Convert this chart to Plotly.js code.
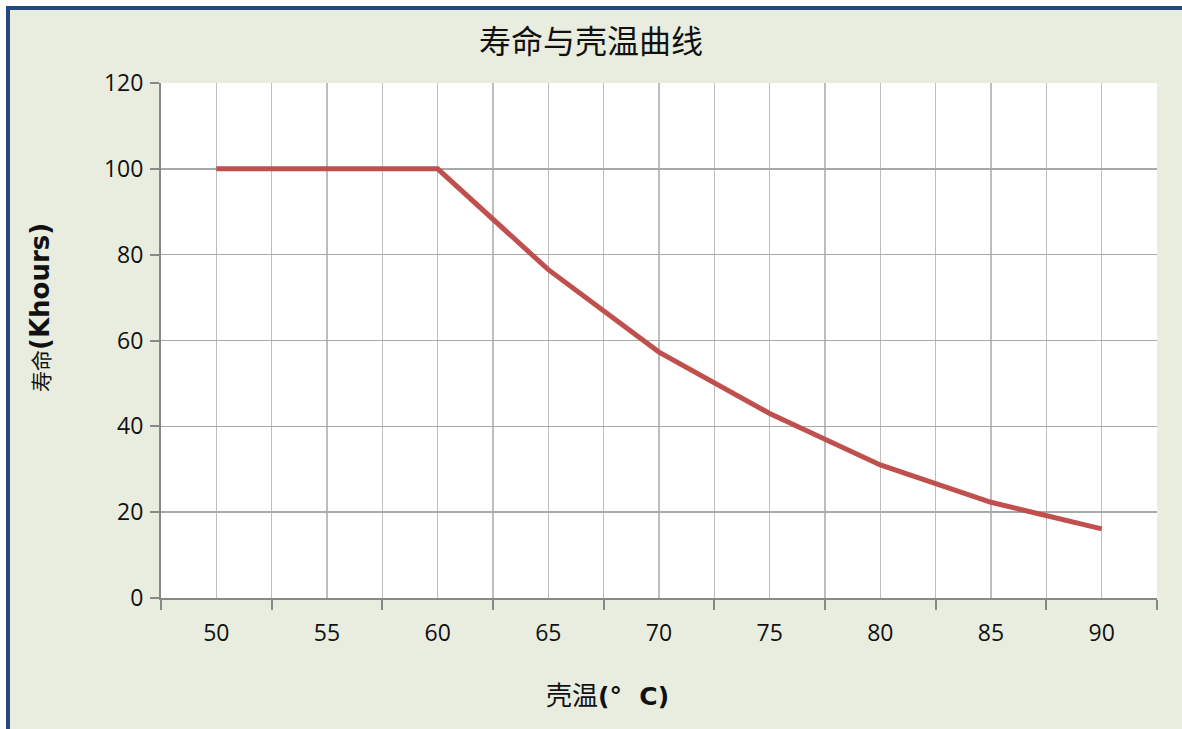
<!DOCTYPE html>
<html>
<head>
<meta charset="utf-8">
<script src="https://cdn.plot.ly/plotly-3.0.1.min.js"></script>
<style>
html,body{margin:0;padding:0;background:#ffffff;}
#chart{width:1182px;height:729px;}
</style>
</head>
<body>
<div id="chart"></div>
<script>
// Data
const temperatures = [50, 55, 60, 65, 70, 75, 80, 85, 90];
const lifeKhours = [100, 100, 100, 76.5, 57.3, 43, 31, 22.3, 16.1];
const xTickLabels = ['50', '55', '60', '65', '70', '75', '80', '85', '90'];
const chartTitle = '寿命与壳温曲线';
const yTitleCn = '寿命';
const yTitleEn = '(Khours)';
const xTitleCn = '壳温';
const xTitleEn = '(°\u00a0\u00a0C)';

const W = 1182, H = 729;
const L = 161, R = 25, T = 83, B = 131;
const pw = W - L - R, ph = H - T - B;
const px = v => (v - L) / pw;
const py = v => (H - B - v) / ph;

const latin = "'DejaVu Sans', 'Liberation Sans', sans-serif";
const cjk = "'Noto Sans CJK SC', sans-serif";

const trace = {
  x: temperatures,
  y: lifeKhours,
  type: 'scatter',
  mode: 'lines',
  line: {color: '#C0504D', width: 5},
  hoverinfo: 'x+y',
  showlegend: false
};

const layout = {
  width: W,
  height: H,
  margin: {l: L, r: R, t: T, b: B, pad: 0},
  paper_bgcolor: '#E9EDDF',
  plot_bgcolor: '#FFFFFF',
  title: {
    text: chartTitle,
    x: 0.5, xref: 'container', xanchor: 'center',
    y: 1 - 42 / H, yref: 'container', yanchor: 'middle',
    font: {family: cjk, size: 32, color: '#111111'}
  },
  xaxis: {
    range: [47.5, 92.5],
    tickmode: 'array',
    tickvals: temperatures,
    ticktext: xTickLabels,
    ticks: '',
    showgrid: true,
    gridcolor: '#BDBDBD',
    gridwidth: 1.5,
    showline: true,
    linecolor: '#888888',
    linewidth: 2,
    zeroline: false,
    ticklabelstandoff: 13,
    tickfont: {family: "'Open Sans', sans-serif", size: 23, color: '#111111'},
    minor: {
      tick0: 47.5,
      dtick: 5,
      ticks: 'outside',
      ticklen: 10,
      tickwidth: 2,
      tickcolor: '#888888',
      showgrid: true,
      gridcolor: '#BDBDBD',
      gridwidth: 1.5
    },
    fixedrange: true
  },
  yaxis: {
    range: [0, 120],
    tick0: 0,
    dtick: 20,
    ticks: 'outside',
    ticklen: 9,
    tickwidth: 2,
    tickcolor: '#888888',
    showgrid: true,
    gridcolor: '#A8A8A8',
    gridwidth: 1.5,
    showline: true,
    linecolor: '#888888',
    linewidth: 2,
    zeroline: false,
    ticklabelstandoff: 2,
    tickfont: {family: "'Open Sans', sans-serif", size: 23, color: '#111111'},
    fixedrange: true
  },
  annotations: [
    {
      text: '<span style="font-family:' + cjk.replace(/'/g, '') + ';font-size:21px">' + yTitleCn + '</span><b>' + yTitleEn + '</b>',
      xref: 'paper', yref: 'paper',
      x: px(40), y: py(308),
      xanchor: 'center', yanchor: 'middle',
      textangle: -90,
      showarrow: false,
      font: {family: latin, size: 26, color: '#111111'}
    },
    {
      text: '<span style="font-family:' + cjk.replace(/'/g, '') + ';font-size:26px">' + xTitleCn + '</span><b>' + xTitleEn + '</b>',
      xref: 'paper', yref: 'paper',
      x: px(607), y: py(693),
      xanchor: 'center', yanchor: 'middle',
      showarrow: false,
      font: {family: latin, size: 25, color: '#111111'}
    }
  ],
  shapes: [
    {type: 'rect', xref: 'paper', yref: 'paper',
     x0: px(-20), x1: px(W + 20), y0: py(6), y1: py(-20),
     fillcolor: '#FFFFFF', line: {width: 0}, layer: 'above'},
    {type: 'rect', xref: 'paper', yref: 'paper',
     x0: px(-20), x1: px(6), y0: py(H + 20), y1: py(-20),
     fillcolor: '#FFFFFF', line: {width: 0}, layer: 'above'},
    {type: 'rect', xref: 'paper', yref: 'paper',
     x0: px(8), x1: px(W + 30), y0: py(H + 30), y1: py(8),
     fillcolor: 'rgba(0,0,0,0)', line: {color: '#234A7A', width: 4}, layer: 'above'}
  ]
};

Plotly.newPlot('chart', [trace], layout, {displayModeBar: false, staticPlot: true});
</script>
</body>
</html>
